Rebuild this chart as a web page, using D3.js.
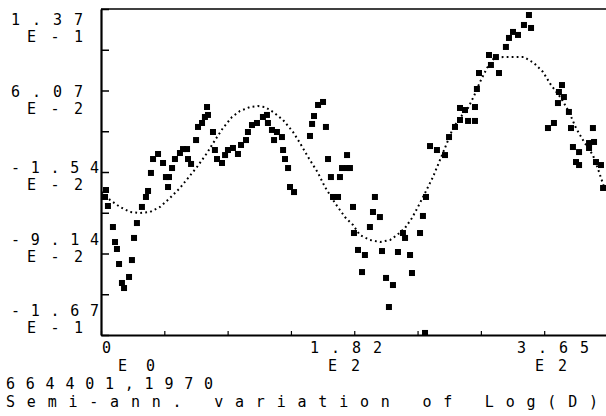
<!DOCTYPE html>
<html>
<head>
<meta charset="utf-8">
<script src="https://cdn.jsdelivr.net/npm/d3@7"></script>
<style>
  body { margin: 0; background: #fff; }
  svg text { font-family: "DejaVu Sans Mono", monospace; font-size: 15px; fill: #000; }
</style>
</head>
<body>
<svg id="chart" width="606" height="416"></svg>
<script>
// observations: day of year / log(D) deviation
var obsDay = [2.9,3.6,5.0,8.6,10.1,11.5,13.0,15.1,16.6,20.2,
  22.3,23.8,25.9,29.5,32.4,33.9,36.0,37.5,41.1,44.7,
  46.8,48.3,49.0,51.2,53.3,56.9,59.1,62.0,62.7,64.9,
  68.5,69.9,72.8,74.9,76.4,77.1,80.7,82.1,83.6,87.2,
  89.4,91.5,95.1,98.7,100.9,104.5,105.9,108.8,112.4,116.7,
  119.6,120.3,123.2,124.7,126.8,130.4,131.2,132.6,134.8,136.2,
  139.1,150.6,152.1,153.5,156.4,160.0,162.1,163.6,165.7,167.2,
  170.8,172.2,173.7,177.3,177.3,179.4,181.6,182.3,185.2,190.2,
  188.1,193.8,196.0,197.4,201.0,202.5,205.4,210.4,207.5,214.0,
  217.6,219.1,222.7,224.1,229.9,232.0,234.2,233.5,237.1,242.1,
  247.9,250.8,255.1,258.7,264.5,269.5,258.7,262.3,269.5,270.9,
  272.4,279.6,284.6,281.0,286.8,291.8,294.0,296.9,300.5,304.8,
  308.4,309.9,332.2,330.0,333.6,329.3,337.2,326.4,322.1,338.7,
  354.5,340.1,344.5,351.7,355.3,351.7,342.3,344.5,356.7,360.3,361.8]
var obsVal = [-0.0383,-0.0318,-0.0467,-0.0663,-0.0803,-0.0868,-0.1008,-0.1185,-0.1232,-0.1129,
  -0.0971,-0.0765,-0.0626,-0.0476,-0.0383,-0.0327,-0.0159,-0.0029,0.0018,-0.0066,
  -0.0197,-0.0290,-0.0197,-0.0113,-0.0029,0.0027,0.0064,0.0064,-0.0029,-0.0075,
  0.0148,0.0270,0.0307,0.0363,0.0456,0.0382,0.0223,0.0055,-0.0029,-0.0066,
  0.0008,0.0055,0.0074,0.0018,0.0102,0.0148,0.0223,0.0288,0.0307,0.0363,
  0.0382,0.0307,0.0242,0.0148,0.0223,0.0176,0.0055,-0.0029,-0.0113,-0.0290,
  -0.0337,0.0186,0.0298,0.0372,0.0475,0.0503,0.0270,-0.0029,-0.0197,-0.0383,
  -0.0383,-0.0197,-0.0113,-0.0113,0.0008,-0.0113,-0.0476,-0.0719,-0.0877,-0.0924,
  -0.1083,-0.0663,-0.0523,-0.0383,-0.0570,-0.0887,-0.1138,-0.1204,-0.1409,-0.0896,
  -0.0719,-0.0765,-0.0924,-0.1092,-0.0719,-0.0560,-0.0383,-0.1651,0.0092,0.0055,
  0.0008,0.0176,0.0270,0.0335,0.0326,0.0326,0.0447,0.0428,0.0456,0.0624,
  0.0773,0.0941,0.0922,0.0848,0.0773,0.1016,0.1100,0.1156,0.1128,0.1221,
  0.1314,0.1193,0.0661,0.0596,0.0549,0.0493,0.0410,0.0307,0.0260,0.0260,
  0.0260,0.0083,0.0036,0.0120,0.0130,0.0074,-0.0057,-0.0085,-0.0057,-0.0085,-0.0299]

// fitted annual + semi-annual curve
var fitDay = [0.7,6.5,13.7,20.9,28.1,35.3,42.5,49.7,56.9,62.7,
  69.2,76.4,82.2,87.9,94.4,100.2,107.4,113.1,118.2,124.0,
  131.2,138.4,143.4,149.2,156.4,161.4,168.6,175.8,181.6,186.6,
  193.8,201.1,208.3,213.3,219.1,224.1,228.4,233.5,239.2,244.3,
  249.3,253.7,258.7,264.5,268.8,273.1,278.2,283.2,289.7,296.9,
  304.8,312.0,318.5,324.3,331.5,337.3,342.3,348.1,354.5,358.9,362.5]
var fitVal = [-0.0337,-0.0411,-0.0476,-0.0523,-0.0532,-0.0523,-0.0476,-0.0392,-0.0299,-0.0206,
  -0.0103,0.0027,0.0148,0.0260,0.0363,0.0419,0.0456,0.0465,0.0456,0.0410,
  0.0335,0.0223,0.0120,-0.0010,-0.0159,-0.0290,-0.0439,-0.0570,-0.0644,-0.0738,
  -0.0784,-0.0803,-0.0784,-0.0738,-0.0672,-0.0579,-0.0476,-0.0346,-0.0197,-0.0038,
  0.0120,0.0260,0.0354,0.0447,0.0559,0.0689,0.0820,0.0913,0.0922,0.0922,
  0.0922,0.0866,0.0783,0.0661,0.0540,0.0410,0.0260,0.0130,0.0008,-0.0150,-0.0290]

var yLabelMant = ['1.37', '6.07', '-1.54', '-9.14', '-1.67']
var yLabelExp = ['E-1', 'E-2', 'E-2', 'E-2', 'E-1']
var xLabelMant = ['0', '1.82', '3.65']
var xLabelExp = ['E0', 'E2', 'E2']
var captionLines = ['664401,1970', 'Semi-ann. variation of Log(D)']

var svg = d3.select('#chart')

var x = d3.scaleLinear().domain([0, 365]).range([101, 607.5])
var y = d3.scaleLinear().domain([-0.167, 0.137]).range([335, 9])

var xTicks = d3.range(9).map(function (i) { return 365 * i / 8 })
var yTicks = d3.range(9).map(function (i) { return 0.137 - 0.304 * i / 8 })

// left axis, ticks pointing inward
svg.append('g')
  .attr('transform', 'translate(101,0)')
  .call(d3.axisLeft(y).tickValues(yTicks).tickSizeInner(-8).tickSizeOuter(0).tickFormat(''))
  .call(function (g) {
    g.select('.domain').attr('stroke-width', 2.2)
    g.selectAll('.tick line').attr('stroke-width', 1.5)
  })

// bottom axis
svg.append('g')
  .attr('transform', 'translate(0,335)')
  .call(d3.axisBottom(x).tickValues(xTicks).tickSizeInner(-4).tickSizeOuter(0).tickFormat(''))
  .call(function (g) {
    g.select('.domain').attr('stroke-width', 2)
    g.selectAll('.tick line').attr('stroke-width', 1.2)
  })

// top frame line
svg.append('line')
  .attr('x1', 101).attr('x2', 606)
  .attr('y1', y(0.137)).attr('y2', y(0.137))
  .attr('stroke', '#000').attr('stroke-width', 1.6)

// fitted curve, dotted
var fit = fitDay.map(function (d, i) { return [d, fitVal[i]] })
svg.append('path')
  .datum(fit)
  .attr('fill', 'none')
  .attr('stroke', '#000')
  .attr('stroke-width', 2)
  .attr('stroke-dasharray', '1.8 3.2')
  .attr('d', d3.line().x(function (d) { return x(d[0]) }).y(function (d) { return y(d[1]) }))

// observations
var obs = obsDay.map(function (d, i) { return [d, obsVal[i]] })
svg.append('g').selectAll('rect')
  .data(obs)
  .enter().append('rect')
  .attr('x', function (d) { return x(d[0]) - 3 })
  .attr('y', function (d) { return y(d[1]) - 3 })
  .attr('width', 6)
  .attr('height', 6)
  .attr('fill', '#000')

// y labels (plotter layout, evenly spread)
var yMantBase = [25, 97, 173, 245, 316]
yLabelMant.forEach(function (t, i) {
  svg.append('text')
    .attr('x', 11).attr('y', yMantBase[i])
    .attr('textLength', t.length === 5 ? 88 : 72)
    .attr('lengthAdjust', 'spacing')
    .text(t)
  svg.append('text')
    .attr('x', 27).attr('y', yMantBase[i] + 17)
    .attr('textLength', 56)
    .attr('lengthAdjust', 'spacing')
    .text(yLabelExp[i])
})

// x labels
var xMantPos = [102, 310, 517]
var xExpPos = [118, 328, 535]
xLabelMant.forEach(function (t, i) {
  var m = svg.append('text').attr('x', xMantPos[i]).attr('y', 353).text(t)
  if (t.length > 1) m.attr('textLength', 72).attr('lengthAdjust', 'spacing')
  svg.append('text')
    .attr('x', xExpPos[i]).attr('y', 371)
    .attr('textLength', i === 0 ? 37 : 32)
    .attr('lengthAdjust', 'spacing')
    .text(xLabelExp[i])
})

// caption
svg.append('text').attr('x', 6).attr('y', 389)
  .attr('textLength', 207).attr('lengthAdjust', 'spacing')
  .text(captionLines[0])
svg.append('text').attr('x', 6).attr('y', 407)
  .attr('textLength', 592).attr('lengthAdjust', 'spacing')
  .text(captionLines[1])
</script>
</body>
</html>
